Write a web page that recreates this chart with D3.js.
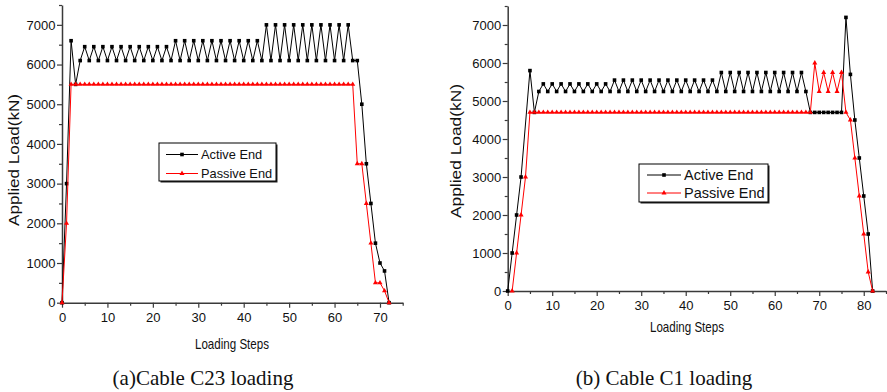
<!DOCTYPE html>
<html><head><meta charset="utf-8">
<script src="https://cdn.jsdelivr.net/npm/d3@7"></script>
<style>body{margin:0;background:#fff}svg{display:block}</style>
</head><body>
<svg id="c" width="887" height="392"></svg>
<script>
// ---- Data (index = loading step; null = no point) ----
const c23Active = [0,3000,6600,5500,6100,
  6450,6100,6450,6100,6450,6100,6450,6100,6450,6100,6450,6100,6450,6100,6450,6100,6450,6100,6450,6100,
  6600,6100,6600,6100,6600,6100,6600,6100,6600,6100,6600,6100,6600,6100,6600,6100,6600,6100,6600,6100,
  7000,6100,7000,6100,7000,6100,7000,6100,7000,6100,7000,6100,7000,6100,7000,6100,7000,6100,7000,
  6100,6100,5000,3500,2500,1500,1000,800,0];
const c23Passive = [0,2000,
  5500,5500,5500,5500,5500,5500,5500,5500,5500,5500,5500,5500,5500,5500,5500,5500,5500,5500,5500,5500,
  5500,5500,5500,5500,5500,5500,5500,5500,5500,5500,5500,5500,5500,5500,5500,5500,5500,5500,5500,5500,
  5500,5500,5500,5500,5500,5500,5500,5500,5500,5500,5500,5500,5500,5500,5500,5500,5500,5500,5500,5500,
  5500,5500,5500,
  3500,3500,2500,1500,500,500,300,0];
const c1Active = [0,1000,2000,3000,null,5800,4700,5250,
  5450,5250,5450,5250,5450,5250,5450,5250,5450,5250,5450,5250,5450,5250,5450,5250,
  5550,5250,5550,5250,5550,5250,5550,5250,5550,5250,5550,5250,5550,5250,5550,5250,5550,5250,5550,5250,5550,5250,5550,5250,
  5750,5250,5750,5250,5750,5250,5750,5250,5750,5250,5750,5250,5750,5250,5750,5250,5750,5250,5750,5250,
  4700,4700,4700,4700,4700,4700,4700,4700,
  7200,5700,4500,3500,2500,1500,0];
const c1Passive = [null,0,1000,2000,3000,
  4700,4700,4700,4700,4700,4700,4700,4700,4700,4700,4700,4700,4700,4700,4700,4700,
  4700,4700,4700,4700,4700,4700,4700,4700,4700,4700,4700,4700,4700,4700,4700,4700,
  4700,4700,4700,4700,4700,4700,4700,4700,4700,4700,4700,4700,4700,4700,4700,4700,
  4700,4700,4700,4700,4700,4700,4700,4700,4700,4700,4700,4700,4700,4700,4700,4700,
  6000,5250,5750,5250,5750,5250,5750,
  4700,4500,3500,2500,1500,500,0];
const seriesNames = ["Active End","Passive End"];
const yTicks = [0,1000,2000,3000,4000,5000,6000,7000];
const xTicksA = [0,10,20,30,40,50,60,70];
const xTicksB = [0,10,20,30,40,50,60,70,80];
const yTitle = "Applied Load(kN)";
const xTitle = "Loading Steps";
const captions = ["(a)Cable C23 loading","(b) Cable C1 loading"];

const svg = d3.select("#c");
const SANS = "Arial, 'Liberation Sans', sans-serif";
const AXC = "#3a3a3a";

function toPts(arr){ return arr.map((v,i)=>({x:i,y:v})).filter(d=>d.y!==null); }

function panel(cfg){
  const x = d3.scaleLinear().domain([0,cfg.xmax]).range([cfg.x0,cfg.x1]);
  const y = d3.scaleLinear().domain([0,7500]).range([cfg.y0,cfg.y1]);
  const g = svg.append("g");

  // minor ticks
  const xMinor = d3.range(5,cfg.xmax+0.1,10);
  const yMinor = d3.range(500,7600,1000);
  g.append("g").attr("transform",`translate(0,${cfg.y0})`)
    .call(d3.axisBottom(x).tickValues(xMinor).tickSize(3).tickFormat(""))
    .call(a=>{a.select(".domain").remove();a.selectAll("line").attr("stroke",AXC).attr("stroke-width",1.2);});
  g.append("g").attr("transform",`translate(${cfg.x0},0)`)
    .call(d3.axisLeft(y).tickValues(yMinor).tickSize(3).tickFormat(""))
    .call(a=>{a.select(".domain").remove();a.selectAll("line").attr("stroke",AXC).attr("stroke-width",1.2);});

  // major axes
  const xa = g.append("g").attr("transform",`translate(0,${cfg.y0})`)
    .call(d3.axisBottom(x).tickValues(cfg.xticks).tickSize(5).tickSizeOuter(0).tickPadding(5).tickFormat(d3.format("d")));
  const ya = g.append("g").attr("transform",`translate(${cfg.x0},0)`)
    .call(d3.axisLeft(y).tickValues(yTicks).tickSize(5).tickSizeOuter(0).tickPadding(1.5).tickFormat(d3.format("d")));
  [xa,ya].forEach(a=>{
    a.select(".domain").attr("stroke",AXC).attr("stroke-width",1.5);
    a.selectAll(".tick line").attr("stroke",AXC).attr("stroke-width",1.2);
    a.selectAll("text").attr("font-family",SANS).attr("font-size",13).attr("fill","#111");
  });

  // lines
  const line = d3.line().x(d=>x(d.x)).y(d=>y(d.y));
  const act = toPts(cfg.active), pas = toPts(cfg.passive);
  g.append("path").datum(act).attr("d",line).attr("fill","none").attr("stroke","#000").attr("stroke-width",1);
  g.selectAll(".sq").data(act).join("rect")
    .attr("x",d=>x(d.x)-1.8).attr("y",d=>y(d.y)-1.8).attr("width",3.6).attr("height",3.6).attr("fill","#000");
  g.append("path").datum(pas).attr("d",line).attr("fill","none").attr("stroke","#ff0000").attr("stroke-width",1);
  const tri = d3.symbol().type(d3.symbolTriangle).size(11);
  g.selectAll(".tr").data(pas).join("path")
    .attr("d",tri).attr("transform",d=>`translate(${x(d.x)},${y(d.y)})`).attr("fill","#ff0000");

  // titles
  g.append("text").attr("transform",`translate(${cfg.ytx},${cfg.yty}) rotate(-90)`)
    .attr("text-anchor","middle").attr("font-family",SANS).attr("font-size",15)
    .attr("textLength",cfg.ytLen).attr("lengthAdjust","spacingAndGlyphs").attr("fill","#111").text(yTitle);
  g.append("text").attr("x",cfg.xtx).attr("y",cfg.xty)
    .attr("text-anchor","middle").attr("font-family",SANS).attr("font-size",14.5)
    .attr("textLength",74).attr("lengthAdjust","spacingAndGlyphs").attr("fill","#111").text(xTitle);

  // legend
  const L = cfg.leg;
  g.append("rect").attr("x",L.x+1.5).attr("y",L.y+1.5).attr("width",L.w).attr("height",L.h).attr("fill","#222");
  g.append("rect").attr("x",L.x).attr("y",L.y).attr("width",L.w).attr("height",L.h).attr("fill","#fff").attr("stroke","#000").attr("stroke-width",1);
  seriesNames.forEach((nm,i)=>{
    const yy = L.y + L.r1 + i*L.dy;
    const col = i===0 ? "#000" : "#ff0000";
    g.append("line").attr("x1",L.lx1).attr("x2",L.lx2).attr("y1",yy).attr("y2",yy).attr("stroke",col).attr("stroke-width",1);
    const mx = (L.lx1+L.lx2)/2;
    if(i===0) g.append("rect").attr("x",mx-1.8).attr("y",yy-1.8).attr("width",3.6).attr("height",3.6).attr("fill",col);
    else g.append("path").attr("d",tri).attr("transform",`translate(${mx},${yy})`).attr("fill",col);
    g.append("text").attr("x",L.tx).attr("y",yy).attr("dy","0.36em").attr("font-family",SANS)
      .attr("font-size",L.fs).attr("fill","#111").text(nm);
  });

  // caption
  svg.append("text").attr("x",cfg.capx).attr("y",385).attr("text-anchor","middle")
    .attr("font-family","'Times New Roman','Liberation Serif',serif").attr("font-size",21)
    .attr("fill","#111").text(cfg.caption);
}

panel({xmax:75, x0:62, x1:402.7, y0:302.7, y1:5, xticks:xTicksA,
  active:c23Active, passive:c23Passive, ytx:19, yty:160, ytLen:132, xtx:232, xty:349,
  leg:{x:159,y:143,w:117,h:38,r1:11.5,dy:19,lx1:166,lx2:198,tx:201,fs:12.8},
  capx:203, caption:captions[0]});
panel({xmax:85, x0:507.7, x1:886, y0:291, y1:6, xticks:xTicksB,
  active:c1Active, passive:c1Passive, ytx:461, yty:151, ytLen:134, xtx:687, xty:332,
  leg:{x:639,y:164,w:129,h:38,r1:11,dy:18,lx1:647,lx2:681,tx:684,fs:14.5},
  capx:664, caption:captions[1]});
</script>
</body></html>
